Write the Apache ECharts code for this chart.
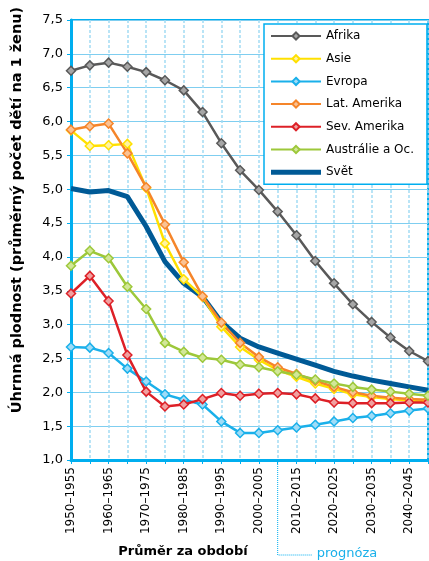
<!DOCTYPE html>
<html>
<head>
<meta charset="utf-8">
<script src="https://cdn.jsdelivr.net/npm/echarts@6/dist/echarts.min.js"></script>
<style>
  html, body { margin: 0; padding: 0; background: #fff; }
  #chart { width: 429px; height: 561px; }
</style>
</head>
<body>
<div id="chart"></div>
<script>
  var periods = ['1950–1955', '1955–1960', '1960–1965', '1965–1970', '1970–1975', '1975–1980',
    '1980–1985', '1985–1990', '1990–1995', '1995–2000', '2000–2005', '2005–2010', '2010–2015',
    '2015–2020', '2020–2025', '2025–2030', '2030–2035', '2035–2040', '2040–2045', '2045–2050'];

  var afrika = [6.75, 6.83, 6.87, 6.81, 6.73, 6.61, 6.46, 6.14, 5.68, 5.28, 4.99, 4.67, 4.32, 3.94, 3.61, 3.30, 3.04, 2.81, 2.61, 2.46];
  var asie = [5.87, 5.64, 5.65, 5.67, 5.02, 4.20, 3.67, 3.41, 2.97, 2.67, 2.48, 2.33, 2.23, 2.13, 2.05, 1.97, 1.93, 1.90, 1.88, 1.87];
  var evropa = [2.67, 2.66, 2.58, 2.35, 2.16, 1.97, 1.89, 1.82, 1.57, 1.40, 1.40, 1.44, 1.48, 1.52, 1.57, 1.62, 1.65, 1.69, 1.73, 1.76];
  var latAmerika = [5.88, 5.93, 5.97, 5.53, 5.03, 4.48, 3.92, 3.42, 3.03, 2.73, 2.52, 2.37, 2.27, 2.17, 2.08, 2.00, 1.95, 1.92, 1.90, 1.89];
  var sevAmerika = [3.46, 3.72, 3.35, 2.55, 2.01, 1.79, 1.82, 1.90, 1.99, 1.95, 1.98, 1.99, 1.97, 1.91, 1.85, 1.84, 1.84, 1.84, 1.85, 1.85];
  var australie = [3.87, 4.09, 3.98, 3.56, 3.23, 2.73, 2.60, 2.51, 2.48, 2.41, 2.37, 2.31, 2.26, 2.19, 2.13, 2.08, 2.04, 2.01, 1.98, 1.95];
  var svet = [5.01, 4.96, 4.98, 4.89, 4.45, 3.93, 3.61, 3.41, 3.04, 2.80, 2.67, 2.58, 2.49, 2.40, 2.31, 2.24, 2.18, 2.13, 2.08, 2.03];

  var blue = '#00aeef';
  var font = '"DejaVu Sans", Verdana, sans-serif';

  function markerSeries(name, data, line, fill) {
    return {
      name: name,
      type: 'line',
      data: data,
      symbol: 'diamond',
      symbolSize: 9,
      lineStyle: { color: line, width: 2.5 },
      itemStyle: { color: fill, borderColor: line, borderWidth: 1.5 },
      emphasis: { disabled: true }
    };
  }

  var myChart = echarts.init(document.getElementById('chart'));
  var option = {
    animation: false,
    backgroundColor: '#fff',
    grid: {
      left: 71, right: 1, top: 20, bottom: 101,
      show: true, borderColor: blue, borderWidth: 2, backgroundColor: 'transparent'
    },
    legend: {
      orient: 'vertical',
      left: 264,
      top: 24,
      itemWidth: 50,
      itemHeight: 9,
      itemGap: 8.7,
      padding: [5, 13, 5, 6],
      backgroundColor: '#fff',
      borderColor: blue,
      borderWidth: 1.5,
      textStyle: { fontFamily: font, fontSize: 12, color: '#000', lineHeight: 14 },
      data: ['Afrika', 'Asie', 'Evropa', 'Lat. Amerika', 'Sev. Amerika', 'Austrálie a Oc.',
        { name: 'Svět', icon: 'path://M0 0H60V6H0Z' }]
    },
    xAxis: {
      type: 'category',
      data: periods,
      boundaryGap: false,
      axisLine: { lineStyle: { color: blue, width: 3 } },
      axisTick: { show: true, interval: 0, length: 4, lineStyle: { color: blue, width: 1 } },
      axisLabel: { interval: 1, rotate: 90, margin: 7, fontFamily: font, fontSize: 12, color: '#000' },
      splitLine: { show: true, interval: 0, lineStyle: { color: '#a3dbf4', width: 1.5, type: [3, 2] } }
    },
    yAxis: {
      type: 'value',
      min: 1,
      max: 7.5,
      interval: 0.5,
      axisLine: { show: true, lineStyle: { color: blue, width: 3 } },
      axisTick: { show: true, length: 4, lineStyle: { color: blue, width: 1 } },
      axisLabel: {
        margin: 8, fontFamily: font, fontSize: 13, color: '#000',
        formatter: function (v) { return v.toFixed(1).replace('.', ','); }
      },
      splitLine: { show: true, lineStyle: { color: '#7fcef0', width: 1 } }
    },
    series: [
      markerSeries('Afrika', afrika, '#595959', '#a6a6a6'),
      markerSeries('Asie', asie, '#ffe000', '#fff3a0'),
      markerSeries('Evropa', evropa, '#1ab0ea', '#9fdcf7'),
      markerSeries('Lat. Amerika', latAmerika, '#f5852a', '#fac294'),
      markerSeries('Sev. Amerika', sevAmerika, '#dd2027', '#f0a0a0'),
      markerSeries('Austrálie a Oc.', australie, '#9dc83a', '#d2e799'),
      {
        name: 'Svět',
        type: 'line',
        data: svet,
        symbol: 'none',
        lineStyle: { color: '#005a96', width: 5 },
        itemStyle: { color: '#005a96' },
        emphasis: { disabled: true },
        z: 1
      }
    ]
  };
  myChart.setOption(option);

  // popisky os a poznámka „prognóza“
  var px = myChart.convertToPixel({ xAxisIndex: 0 }, '2005–2010');
  myChart.setOption({
    graphic: [
      {
        type: 'text', x: 17, y: 210, rotation: Math.PI / 2,
        style: {
          text: 'Úhrnná plodnost (průměrný počet dětí na 1 ženu)',
          font: 'bold 14.5px ' + font, fill: '#000', align: 'center', verticalAlign: 'middle'
        }
      },
      {
        type: 'text', x: 183, y: 552,
        style: { text: 'Průměr za období', font: 'bold 13px ' + font, fill: '#000', align: 'center', verticalAlign: 'middle' }
      },
      {
        type: 'polyline',
        shape: { points: [[px, 462], [px, 555], [px + 34, 555]] },
        style: { stroke: blue, lineWidth: 1, lineDash: [1, 1], fill: null }
      },
      {
        type: 'text', x: px + 39, y: 554,
        style: { text: 'prognóza', font: '13px ' + font, fill: '#1ab0ea', align: 'left', verticalAlign: 'middle' }
      }
    ]
  });
</script>
</body>
</html>
